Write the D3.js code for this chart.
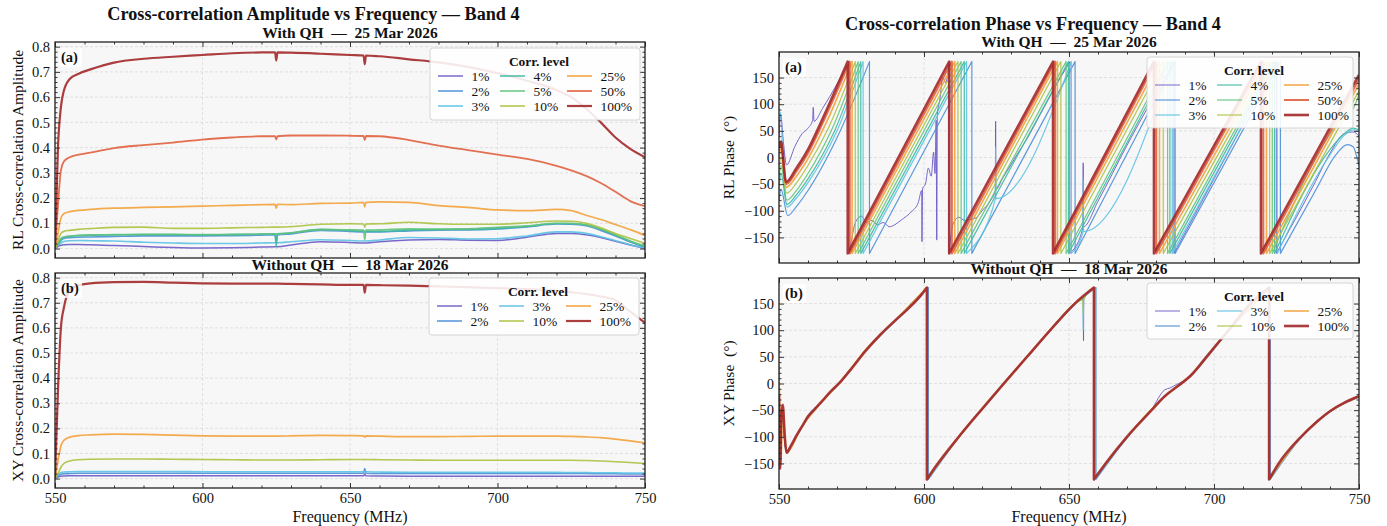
<!DOCTYPE html>
<html>
<head>
<meta charset="utf-8">
<script src="https://cdn.jsdelivr.net/npm/d3@7"></script>
<style>
  body { margin: 0; background: #fff; }
  svg text { font-family: "Liberation Serif", "Times New Roman", Times, serif; white-space: pre; }
</style>
</head>
<body>
<svg id="chart" width="1387" height="526"></svg>
<script>
// ---- data ----
const rlLevels = ['1%', '2%', '3%', '4%', '5%', '10%', '25%', '50%', '100%'];
const xyLevels = ['1%', '2%', '3%', '10%', '25%', '100%'];
const levelColors = {
  '1%': '#6a58c4', '2%': '#4a8ed8', '3%': '#5cc2e4', '4%': '#3db9a0', '5%': '#60c27c',
  '10%': '#a8c23e', '25%': '#f2a23a', '50%': '#e0603e', '100%': '#a2282a'
};
const freqTicks = [550, 600, 650, 700, 750];
const ampTicks = [0, 0.1, 0.2, 0.3, 0.4, 0.5, 0.6, 0.7, 0.8];
const phaseTicks = [-150, -100, -50, 0, 50, 100, 150];

// amplitude sample frequencies (MHz)
const freqAmp = [550, 551, 552, 553, 555, 558, 562, 570, 580, 590, 600, 610, 620, 624.6, 625, 625.4, 630, 640, 650, 654.6,
  655, 655.4, 660, 670, 680, 690, 700, 710, 720, 725, 730, 735, 740, 745, 750];

// (a) RL amplitude, with QH
const ampRL1 = [0, 0.008, 0.013, 0.015, 0.016, 0.016, 0.015, 0.012, 0.008, 0.004, 0.002, 0.003, 0.006, 0.007, 0.007, 0.007, 0.014, 0.027, 0.024, 0.022,
  0.022, 0.022, 0.027, 0.034, 0.036, 0.033, 0.032, 0.045, 0.06, 0.06, 0.055, 0.044, 0.029, 0.014, 0.0];
const ampRL2 = [0, 0.015, 0.032, 0.04, 0.043, 0.045, 0.046, 0.048, 0.05, 0.05, 0.05, 0.051, 0.053, 0.054, 0.03, 0.054, 0.058, 0.072, 0.068, 0.066,
  0.066, 0.066, 0.066, 0.07, 0.073, 0.074, 0.078, 0.086, 0.097, 0.096, 0.09, 0.072, 0.05, 0.026, 0.005];
const ampRL3 = [0, 0.012, 0.022, 0.028, 0.031, 0.032, 0.031, 0.03, 0.025, 0.022, 0.02, 0.02, 0.022, 0.023, 0.023, 0.023, 0.027, 0.035, 0.032, 0.03,
  0.03, 0.03, 0.034, 0.044, 0.042, 0.038, 0.039, 0.05, 0.066, 0.066, 0.06, 0.047, 0.031, 0.015, 0.002];
const ampRL4 = [0, 0.018, 0.036, 0.044, 0.048, 0.051, 0.053, 0.054, 0.055, 0.055, 0.054, 0.055, 0.057, 0.058, 0.008, 0.058, 0.062, 0.076, 0.071, 0.068,
  0.068, 0.068, 0.068, 0.073, 0.075, 0.076, 0.08, 0.088, 0.099, 0.098, 0.093, 0.076, 0.053, 0.028, 0.007];
const ampRL5 = [0, 0.02, 0.04, 0.046, 0.05, 0.052, 0.054, 0.055, 0.056, 0.056, 0.055, 0.056, 0.057, 0.058, 0.058, 0.058, 0.062, 0.075, 0.074, 0.073,
  0.035, 0.073, 0.074, 0.078, 0.077, 0.078, 0.084, 0.09, 0.1, 0.1, 0.094, 0.077, 0.055, 0.03, 0.01];
const ampRL10 = [0, 0.03, 0.06, 0.068, 0.072, 0.076, 0.079, 0.084, 0.085, 0.08, 0.08, 0.082, 0.084, 0.085, 0.085, 0.085, 0.087, 0.096, 0.098, 0.097,
  0.085, 0.097, 0.098, 0.104, 0.098, 0.096, 0.096, 0.102, 0.109, 0.108, 0.1, 0.082, 0.06, 0.04, 0.02];
const ampRL25 = [0, 0.06, 0.12, 0.138, 0.146, 0.151, 0.155, 0.16, 0.163, 0.165, 0.168, 0.171, 0.174, 0.175, 0.16, 0.175, 0.174, 0.179, 0.18, 0.183,
  0.165, 0.183, 0.185, 0.183, 0.17, 0.163, 0.153, 0.15, 0.155, 0.15, 0.132, 0.115, 0.095, 0.075, 0.052];
const ampRL50 = [0, 0.17, 0.31, 0.345, 0.362, 0.372, 0.38, 0.398, 0.41, 0.42, 0.432, 0.44, 0.445, 0.445, 0.432, 0.445, 0.448, 0.448, 0.447, 0.446,
  0.43, 0.446, 0.445, 0.43, 0.408, 0.39, 0.372, 0.355, 0.328, 0.31, 0.288, 0.26, 0.225, 0.188, 0.168];
const ampRL100 = [0, 0.40, 0.56, 0.625, 0.672, 0.693, 0.71, 0.737, 0.752, 0.76, 0.767, 0.774, 0.777, 0.777, 0.745, 0.777, 0.776, 0.772, 0.767, 0.765,
  0.73, 0.765, 0.762, 0.75, 0.738, 0.72, 0.695, 0.665, 0.628, 0.60, 0.555, 0.50, 0.44, 0.395, 0.362];

// (b) XY amplitude, without QH
const ampXY1 = [0, 0.006, 0.009, 0.01, 0.011, 0.011, 0.011, 0.011, 0.011, 0.011, 0.011, 0.011, 0.011, 0.011, 0.011, 0.011, 0.011, 0.011, 0.011, 0.011,
  0.018, 0.011, 0.01, 0.009, 0.009, 0.009, 0.009, 0.009, 0.009, 0.009, 0.009, 0.009, 0.009, 0.009, 0.009];
const ampXY2 = [0, 0.01, 0.017, 0.019, 0.02, 0.021, 0.021, 0.021, 0.021, 0.021, 0.021, 0.021, 0.021, 0.021, 0.021, 0.021, 0.021, 0.021, 0.021, 0.021,
  0.04, 0.021, 0.02, 0.02, 0.02, 0.02, 0.02, 0.02, 0.02, 0.02, 0.02, 0.019, 0.019, 0.018, 0.018];
const ampXY3 = [0, 0.015, 0.024, 0.026, 0.027, 0.028, 0.028, 0.028, 0.028, 0.028, 0.027, 0.027, 0.027, 0.027, 0.027, 0.027, 0.027, 0.027, 0.027, 0.027,
  0.027, 0.027, 0.026, 0.025, 0.025, 0.025, 0.025, 0.025, 0.025, 0.024, 0.024, 0.023, 0.023, 0.022, 0.022];
const ampXY10 = [0, 0.02, 0.045, 0.06, 0.07, 0.075, 0.077, 0.078, 0.078, 0.077, 0.076, 0.075, 0.074, 0.074, 0.074, 0.074, 0.074, 0.075, 0.076, 0.076,
  0.075, 0.076, 0.075, 0.074, 0.073, 0.073, 0.073, 0.073, 0.073, 0.073, 0.072, 0.07, 0.067, 0.064, 0.06];
const ampXY25 = [0, 0.07, 0.13, 0.152, 0.165, 0.171, 0.174, 0.177, 0.176, 0.173, 0.17, 0.169, 0.169, 0.169, 0.169, 0.169, 0.17, 0.172, 0.171, 0.17,
  0.165, 0.17, 0.169, 0.167, 0.167, 0.168, 0.169, 0.169, 0.169, 0.168, 0.166, 0.163, 0.157, 0.15, 0.142];
const ampXY100 = [0, 0.35, 0.6, 0.68, 0.75, 0.77, 0.777, 0.782, 0.783, 0.78, 0.777, 0.776, 0.776, 0.776, 0.776, 0.776, 0.775, 0.773, 0.771, 0.771,
  0.74, 0.771, 0.77, 0.768, 0.765, 0.762, 0.758, 0.754, 0.748, 0.742, 0.735, 0.725, 0.71, 0.665, 0.62];

// (a) RL phase [MHz, deg], wraps kept as drawn
const phaseRL1 = [[550, 40], [550.6, 80], [551.5, 30], [552.6, -14], [555.5, 21], [558, 45], [560, 55], [561.6, 70], [561.8, 94], [562.1, 68],
  [565, 92], [570, 138], [574.3, 180], [574.3, -180], [576.5, -120], [578.5, -110], [580, -122], [582, -118], [584, -126], [586, -122],
  [588, -130], [590, -126], [592, -118], [594, -110], [596, -100], [598, -85], [599.2, -62], [599.3, -158], [599.5, -58], [600.5, -50],
  [601.5, -20], [602.5, -35], [603.3, 10], [603.8, -30], [604.2, 70], [604.4, -155], [604.6, 80], [605.5, 110], [606.5, 150], [607.5, 140],
  [608.6, 178], [608.6, -180], [610, -125], [612, -112], [614, -118], [616, -116], [618, -113], [620, -100], [622.8, -82], [624.6, -62],
  [624.7, 68], [624.8, -60], [627, -40], [629.7, -16], [632, 5], [635.4, 34], [640, 80], [645, 130], [650.3, 180], [650.3, -180],
  [654.8, -132], [654.9, -10], [655, -130], [660, -82], [670, 23], [686.2, 180], [686.2, -180], [700, -40], [710, 62], [721.5, 180],
  [721.5, -180], [735, -45], [740, 8], [745, 45], [748, 48], [750, 40]];
const phaseRL2 = [[550, -80], [550.7, -60], [553, -109], [556, -92], [560, -62], [570, 37], [581.2, 180], [581.2, -180], [616.5, 180],
  [616.5, -180], [652.1, 180], [652.1, -180], [686.6, 180], [686.6, -180], [722.9, 180], [722.9, -180], [735, -62], [742, 5], [746, 24],
  [748, 20], [749.3, 0], [750, -15]];
const phaseRL3 = [[550, 55], [550.6, 85], [551.5, -25], [552.8, -93], [556, -76], [560, -47], [570, 50], [579, 180], [579, -180],
  [614.7, 180], [614.7, -180], [624.6, -78], [624.7, 20], [624.8, -77], [650.8, 180], [650.8, -180], [654.8, -140], [654.9, -40],
  [655, -139], [685.6, 180], [685.6, -180], [721.8, 180], [721.8, -180], [740, 5], [745, 42], [748, 52], [750, 50]];
const phaseRL4 = [[550, -55], [550.7, -30], [552.7, -88], [556, -70], [560, -40], [569, 48], [578.2, 180], [578.2, -180], [613.9, 180],
  [613.9, -180], [649.8, 180], [649.8, -180], [684.8, 180], [684.8, -180], [720.9, 180], [720.9, -180], [740, 15], [745, 45], [748, 55], [750, 52]];
const phaseRL5 = [[550, -40], [550.7, -15], [552.7, -80], [556, -62], [560, -30], [568, 50], [577.3, 180], [577.3, -180], [612.8, 180],
  [612.8, -180], [649, 180], [649, -180], [684, 180], [684, -180], [720.1, 180], [720.1, -180], [745, 78], [748, 92], [750, 118]];
const phaseRL10 = [[550, -20], [550.7, 0], [552.6, -67], [556, -48], [560, -15], [567, 55], [576.3, 180], [576.3, -180], [611.7, 180],
  [611.7, -180], [647.2, 180], [647.2, -180], [682.5, 180], [682.5, -180], [719.2, 180], [719.2, -180], [750, 125]];
const phaseRL25 = [[550, 0], [550.7, 15], [552.5, -56], [556, -35], [560, -2], [566, 62], [575.2, 180], [575.2, -180], [610.6, 180],
  [610.6, -180], [646, 180], [646, -180], [681.2, 180], [681.2, -180], [718.1, 180], [718.1, -180], [750, 138]];
const phaseRL50 = [[550, 12], [550.7, 25], [552.5, -50], [556, -26], [560, 8], [565, 64], [574.4, 180], [574.4, -180], [609.6, 180],
  [609.6, -180], [645.2, 180], [645.2, -180], [680.1, 180], [680.1, -180], [717, 180], [717, -180], [750, 147]];
const phaseRL100 = [[550, 20], [550.7, 30], [552.4, -46], [556, -20], [560, 15], [565, 72], [573.7, 180], [573.7, -180], [608.7, 180],
  [608.7, -180], [644.5, 180], [644.5, -180], [679.3, 180], [679.3, -180], [716.2, 180], [716.2, -180], [750, 155]];

// (b) XY phase [MHz, deg]
const phaseXY1 = [[550, -10], [550.4, -140], [550.9, -50], [552.5, -126], [556, -99], [560, -60], [565, -33], [571, 3], [580, 63],
  [590, 119], [601, 180], [601, -180], [604, -157], [612, -99], [620, -47], [628, 4], [636, 52], [644, 104], [652, 151], [654.9, 160],
  [655, 80], [655.1, 158], [658.9, 180], [658.9, -180], [670, -99], [678.5, -48], [683, -12], [685, -8], [687, -2], [690, 6],
  [697.4, 51], [705, 101], [719, 180], [719, -180], [730, -99], [740, -51], [750, -24]];
const phaseXY2 = [[550, -30], [550.5, -120], [551, -50], [552.4, -128], [556, -100], [560, -63], [565, -33], [571, 1], [580, 62],
  [590, 116], [596, 148], [601.5, 180], [601.5, -180], [612, -101], [628, 2], [644, 102], [652, 148], [659.3, 180], [659.3, -180],
  [670, -102], [683, -25], [692, 14], [705, 98], [719.4, 180], [719.4, -180], [730, -102], [740, -53], [750, -25]];
const phaseXY3 = [[550, -25], [550.5, -150], [551, -55], [552.5, -129], [558, -80], [565, -33], [571, 2], [580, 64], [590, 118],
  [601, 180], [601, -180], [612, -100], [628, 3], [644, 103], [652, 150], [654.8, 158], [654.9, 100], [655, 158], [658.7, 180],
  [658.7, -180], [670, -100], [683, -24], [692, 15], [705, 100], [719, 180], [719, -180], [730, -100], [740, -52], [750, -24]];
const phaseXY10 = [[550, -10], [550.4, -100], [551, -45], [552.5, -128], [558, -80], [565, -33], [571, 2], [580, 64], [590, 118],
  [601, 180], [601, -180], [612, -100], [628, 3], [644, 103], [652, 150], [654.8, 157], [654.9, 130], [655, 157], [658.6, 180],
  [658.6, -180], [670, -100], [683, -24], [692, 15], [705, 100], [719, 180], [719, -180], [730, -100], [740, -52], [750, -24]];
const phaseXY25 = [[550, 35], [550.3, -60], [550.7, -150], [551.2, -45], [552.5, -129], [558, -80], [565, -33], [571, 2], [580, 64],
  [590, 118], [601, 180], [601, -180], [612, -100], [628, 3], [644, 103], [652, 150], [658.6, 180], [658.6, -180], [670, -100],
  [683, -24], [692, 15], [705, 100], [719, 180], [719, -180], [730, -100], [740, -52], [750, -24]];
const phaseXY100 = [[550, -20], [550.4, -160], [550.8, -60], [551.3, -40], [552, -100], [552.6, -130], [554, -118], [556, -98],
  [558, -80], [560, -62], [562, -50], [565, -32], [568, -14], [571, 2], [575, 28], [580, 62], [585, 92], [590, 118], [595, 143],
  [599, 166], [601, 180], [601, -180], [604, -156], [612, -100], [620, -48], [628, 3], [636, 53], [644, 103], [652, 150],
  [658.6, 180], [658.6, -180], [662.6, -150], [670, -100], [678.5, -50], [683, -24], [688, -3], [692, 15], [697.4, 50], [705, 100],
  [712.5, 150], [719, 180], [719, -180], [722.3, -150], [730, -100], [735, -74], [740, -52], [745, -36], [750, -24]];

const ampRL = { '1%': ampRL1, '2%': ampRL2, '3%': ampRL3, '4%': ampRL4, '5%': ampRL5, '10%': ampRL10, '25%': ampRL25, '50%': ampRL50, '100%': ampRL100 };
const ampXY = { '1%': ampXY1, '2%': ampXY2, '3%': ampXY3, '10%': ampXY10, '25%': ampXY25, '100%': ampXY100 };
const phaseRL = { '1%': phaseRL1, '2%': phaseRL2, '3%': phaseRL3, '4%': phaseRL4, '5%': phaseRL5, '10%': phaseRL10, '25%': phaseRL25, '50%': phaseRL50, '100%': phaseRL100 };
const phaseXY = { '1%': phaseXY1, '2%': phaseXY2, '3%': phaseXY3, '10%': phaseXY10, '25%': phaseXY25, '100%': phaseXY100 };

// ---- drawing ----
const FONT = '"Liberation Serif", "Times New Roman", Times, serif';
const svg = d3.select('#chart');
const defs = svg.append('defs');

function minorOf(major, step) {
  const out = [];
  for (let i = 0; i < major.length - 1; i++) {
    for (let k = 1; k < 5; k++) out.push(+(major[i] + k * step).toFixed(4));
  }
  return out;
}

function addAxis(g, axis, tr, values, size, fmt) {
  g.append('g').attr('transform', tr)
    .call(axis.tickValues(values).tickSize(-size).tickPadding(5).tickFormat(fmt))
    .call(a => a.select('.domain').remove())
    .call(a => a.selectAll('line').attr('stroke', '#222').attr('stroke-width', 0.9))
    .call(a => a.selectAll('text').attr('font-family', FONT).attr('font-size', 14.5).attr('fill', '#111'));
}

function panel(o) {
  const x = d3.scaleLinear().domain([550, 750]).range([o.left, o.right]);
  const y = d3.scaleLinear().domain(o.yDomain).range([o.bottom, o.top]);
  const g = svg.append('g');
  g.append('rect').attr('x', o.left).attr('y', o.top)
    .attr('width', o.right - o.left).attr('height', o.bottom - o.top).attr('fill', '#f7f7f7');

  const grid = g.append('g').attr('stroke', '#d6d6d6').attr('stroke-width', 0.7).attr('stroke-dasharray', '3,2');
  grid.selectAll('.gx').data(freqTicks).join('line')
    .attr('x1', d => x(d)).attr('x2', d => x(d)).attr('y1', o.top).attr('y2', o.bottom);
  grid.selectAll('.gy').data(o.yTicks).join('line')
    .attr('x1', o.left).attr('x2', o.right).attr('y1', d => y(d)).attr('y2', d => y(d));

  defs.append('clipPath').attr('id', 'clip-' + o.id).append('rect')
    .attr('x', o.left).attr('y', o.top).attr('width', o.right - o.left).attr('height', o.bottom - o.top);
  const plot = g.append('g').attr('clip-path', `url(#clip-${o.id})`);

  const frame = svg.append('g');
  const xMinor = minorOf(freqTicks, 10);
  const yMinor = minorOf(o.yTicks, o.yMinorStep);
  addAxis(frame, d3.axisBottom(x), `translate(0,${o.bottom})`, freqTicks, 5, o.xLabels ? d3.format('d') : '');
  addAxis(frame, d3.axisBottom(x), `translate(0,${o.bottom})`, xMinor, 2.5, '');
  addAxis(frame, d3.axisTop(x), `translate(0,${o.top})`, freqTicks, 5, '');
  addAxis(frame, d3.axisTop(x), `translate(0,${o.top})`, xMinor, 2.5, '');
  addAxis(frame, d3.axisLeft(y), `translate(${o.left},0)`, o.yTicks, 5, o.yFormat);
  addAxis(frame, d3.axisLeft(y), `translate(${o.left},0)`, yMinor, 2.5, '');
  addAxis(frame, d3.axisRight(y), `translate(${o.right},0)`, o.yTicks, 5, '');
  addAxis(frame, d3.axisRight(y), `translate(${o.right},0)`, yMinor, 2.5, '');
  frame.append('rect').attr('x', o.left).attr('y', o.top)
    .attr('width', o.right - o.left).attr('height', o.bottom - o.top)
    .attr('fill', 'none').attr('stroke', '#222').attr('stroke-width', 1.3);

  // y label
  svg.append('text')
    .attr('transform', `translate(${o.yLabelX},${(o.top + o.bottom) / 2}) rotate(-90)`)
    .attr('text-anchor', 'middle').attr('dominant-baseline', 'central')
    .attr('font-size', 15.5).attr('fill', '#111').text(o.yLabel);

  // panel tag
  const tag = svg.append('g');
  tag.append('rect').attr('x', o.left + 4).attr('y', o.top + 6).attr('width', 23).attr('height', 19)
    .attr('rx', 2).attr('fill', '#fff').attr('fill-opacity', 0.8);
  tag.append('text').attr('x', o.left + 6).attr('y', o.top + 20)
    .attr('font-size', 14.5).attr('font-weight', 'bold').attr('fill', '#111').text(o.tag);

  return { x, y, plot, frame, tag };
}

function lineWidth(level, phase) {
  if (level === '100%') return phase ? 2.6 : 2.2;
  if (level === '50%') return phase ? 2.0 : 1.8;
  if (level === '25%') return phase ? 1.6 : 1.7;
  if (level === '1%') return phase ? 1.0 : 1.5;
  return phase ? 1.2 : 1.6;
}

function drawAmp(p, levels, values) {
  const line = d3.line().x(d => p.x(d[0])).y(d => p.y(d[1])).curve(d3.curveMonotoneX);
  levels.forEach(lv => {
    const pts = freqAmp.map((f, i) => [f, values[lv][i]]);
    p.plot.append('path').datum(pts).attr('d', line)
      .attr('fill', 'none').attr('stroke', levelColors[lv]).attr('stroke-opacity', 0.9)
      .attr('stroke-width', lineWidth(lv, false)).attr('stroke-linejoin', 'round');
  });
}

// smooth each branch between wraps, join branches with the vertical wrap segment
function wrappedPath(line, pts) {
  const segs = [[]];
  pts.forEach((d, i) => {
    if (i > 0 && d[0] === pts[i - 1][0]) segs.push([]);
    segs[segs.length - 1].push(d);
  });
  return segs.map((s, i) => {
    const d = line(s).replace(/Z$/, '');
    return i ? 'L' + d.slice(1) : d;
  }).join('');
}

function drawPhase(p, levels, values) {
  const line = d3.line().x(d => p.x(d[0])).y(d => p.y(d[1])).curve(d3.curveMonotoneX);
  levels.forEach(lv => {
    p.plot.append('path').attr('d', wrappedPath(line, values[lv]))
      .attr('fill', 'none').attr('stroke', levelColors[lv]).attr('stroke-opacity', 0.9)
      .attr('stroke-width', lineWidth(lv, true)).attr('stroke-linejoin', 'round');
  });
}

const legendCols = [8, 70, 137];
function legend(levels, o) {
  const g = svg.append('g');
  g.append('rect').attr('x', o.x).attr('y', o.y).attr('width', o.w).attr('height', o.h).attr('rx', 3)
    .attr('fill', '#fff').attr('fill-opacity', 0.88).attr('stroke', '#cccccc').attr('stroke-width', 0.8);
  g.append('text').attr('x', o.x + o.w / 2 + 4).attr('y', o.y + 13.5)
    .attr('text-anchor', 'middle').attr('dominant-baseline', 'central')
    .attr('font-size', 13.5).attr('font-weight', 'bold').attr('fill', '#111').text('Corr. level');
  levels.forEach((lv, i) => {
    const c = Math.floor(i / o.rows), r = i % o.rows;
    const lx = o.x + legendCols[c], ly = o.y + 28 + r * 15;
    g.append('line').attr('x1', lx).attr('x2', lx + 25).attr('y1', ly).attr('y2', ly)
      .attr('stroke', levelColors[lv]).attr('stroke-opacity', 0.9).attr('stroke-width', lineWidth(lv, o.phase));
    g.append('text').attr('x', lx + 33.5).attr('y', ly).attr('dominant-baseline', 'central')
      .attr('font-size', 13.5).attr('fill', '#111').text(lv);
  });
}

function title(x, y, size, txt) {
  svg.append('text').attr('x', x).attr('y', y).attr('text-anchor', 'middle').attr('dominant-baseline', 'central')
    .attr('font-size', size).attr('font-weight', 'bold').attr('fill', '#111').text(txt);
}

// left column: amplitude
const ampDomain = [-0.0375, 0.8185];
const pA = panel({ id: 'amp-a', left: 55, right: 645, top: 42, bottom: 258, yDomain: ampDomain, yTicks: ampTicks,
  yMinorStep: 0.02, yFormat: d3.format('.1f'), xLabels: false, yLabel: 'RL Cross-correlation Amplitude', yLabelX: 17.5, tag: '(a)' });
const pB = panel({ id: 'amp-b', left: 55, right: 645, top: 273, bottom: 488, yDomain: ampDomain, yTicks: ampTicks,
  yMinorStep: 0.02, yFormat: d3.format('.1f'), xLabels: true, yLabel: 'XY Cross-correlation Amplitude', yLabelX: 17.5, tag: '(b)' });
drawAmp(pA, rlLevels, ampRL);
drawAmp(pB, xyLevels, ampXY);

// right column: phase
const phDomain = [-198, 198];
const pC = panel({ id: 'ph-a', left: 779, right: 1359, top: 52, bottom: 263, yDomain: phDomain, yTicks: phaseTicks,
  yMinorStep: 10, yFormat: d3.format('d'), xLabels: false, yLabel: 'RL Phase  (°)', yLabelX: 728, tag: '(a)' });
const pD = panel({ id: 'ph-b', left: 779, right: 1359, top: 278, bottom: 489, yDomain: phDomain, yTicks: phaseTicks,
  yMinorStep: 10, yFormat: d3.format('d'), xLabels: true, yLabel: 'XY Phase  (°)', yLabelX: 728, tag: '(b)' });
drawPhase(pC, rlLevels, phaseRL);
drawPhase(pD, xyLevels, phaseXY);

// keep frames and tags above the data
[pA, pB, pC, pD].forEach(p => { p.frame.raise(); p.tag.raise(); });

legend(rlLevels, { x: 430, y: 48, w: 210, h: 72, rows: 3, phase: false });
legend(xyLevels, { x: 429, y: 278, w: 210, h: 57, rows: 2, phase: false });
legend(rlLevels, { x: 1147, y: 57, w: 206, h: 71, rows: 3, phase: true });
legend(xyLevels, { x: 1147, y: 283, w: 206, h: 56, rows: 2, phase: true });

// titles
title(313.5, 13.5, 18.2, 'Cross-correlation Amplitude vs Frequency — Band 4');
title(350, 32.5, 15.5, 'With QH  —  25 Mar 2026');
title(350, 264, 15.5, 'Without QH  —  18 Mar 2026');
title(1033, 23.5, 18.2, 'Cross-correlation Phase vs Frequency — Band 4');
title(1069, 41.5, 15.5, 'With QH  —  25 Mar 2026');
title(1069, 268, 15.5, 'Without QH  —  18 Mar 2026');

// x labels
[350, 1069].forEach(cx => {
  svg.append('text').attr('x', cx).attr('y', 516.5).attr('text-anchor', 'middle').attr('dominant-baseline', 'central')
    .attr('font-size', 16).attr('fill', '#111').text('Frequency (MHz)');
});
</script>
</body>
</html>
